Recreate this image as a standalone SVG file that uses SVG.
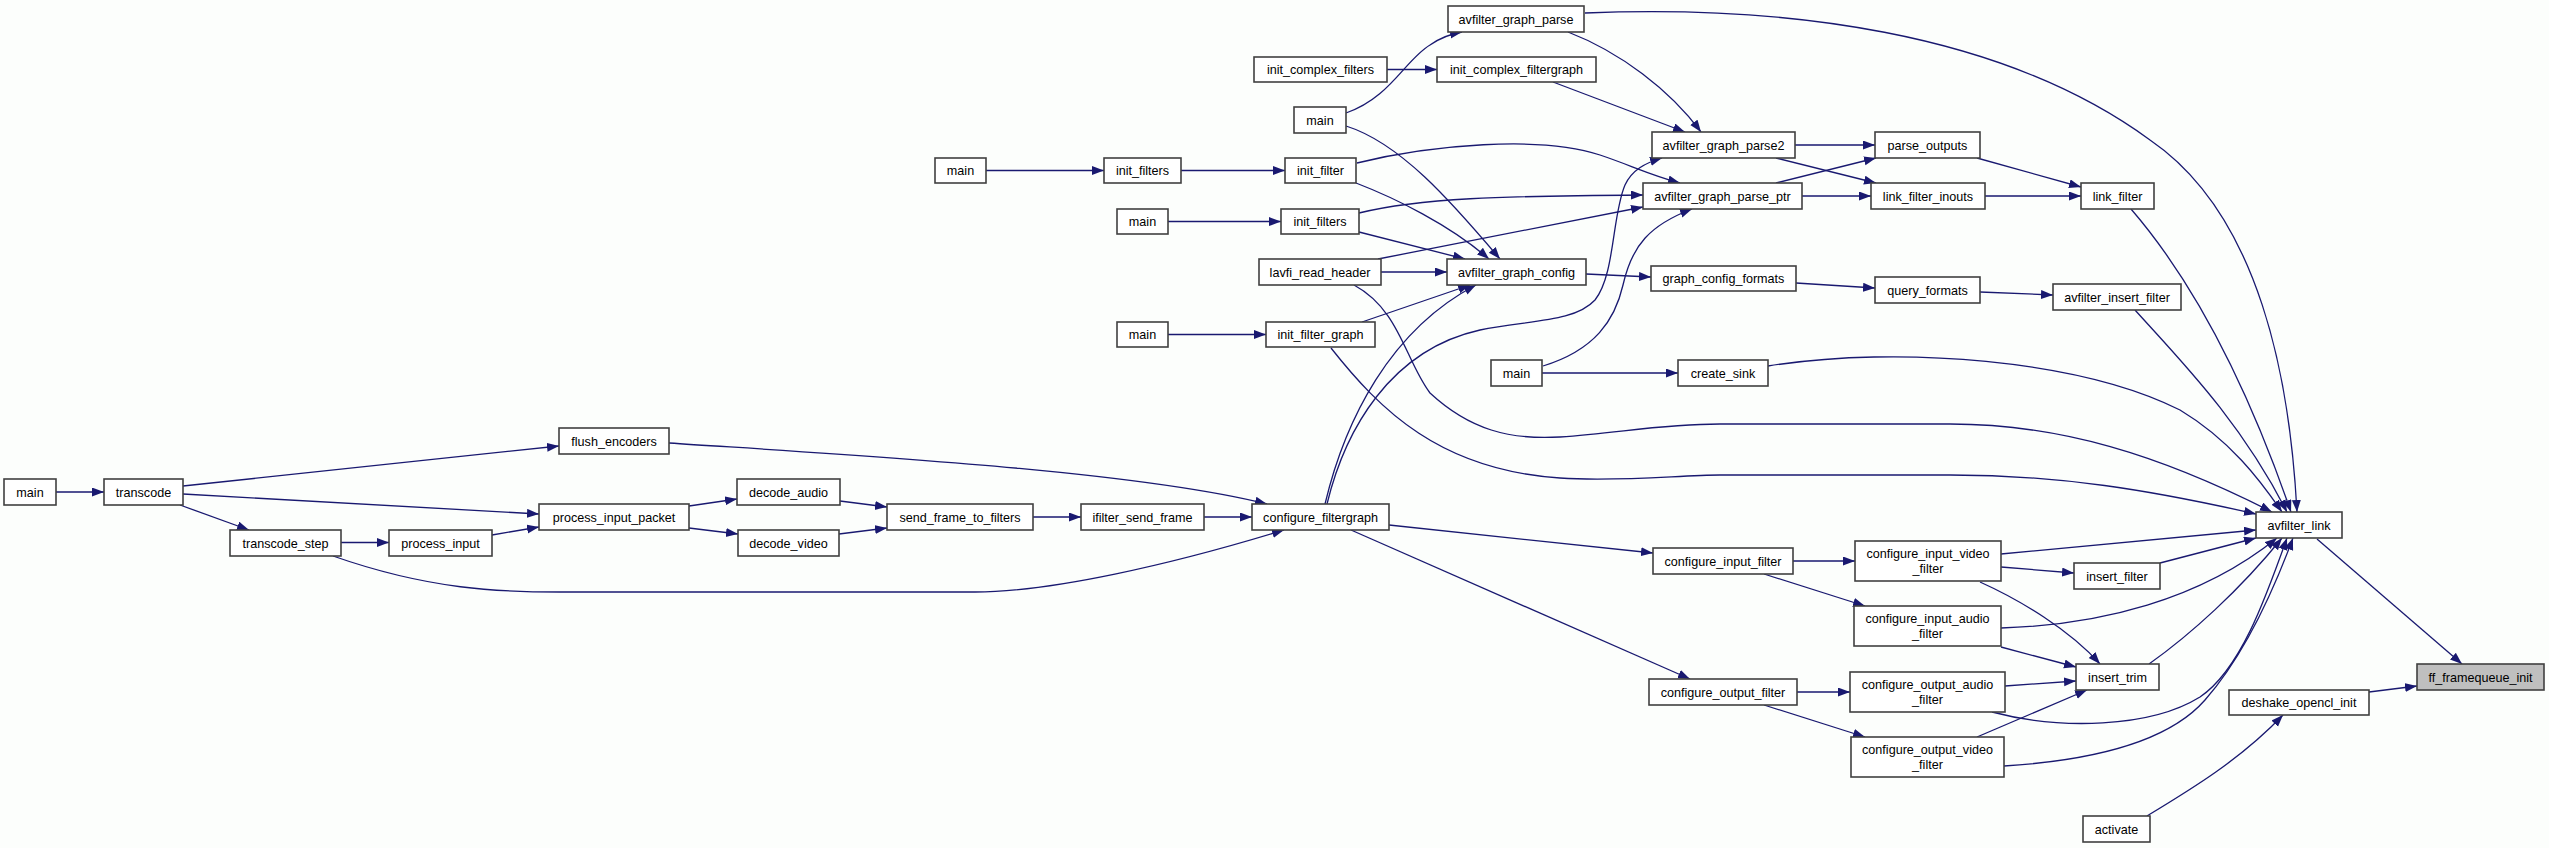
<svg xmlns="http://www.w3.org/2000/svg" width="2549" height="848" viewBox="0 0 2549 848">
<defs>
<style>
.n rect{fill:#ffffff;stroke:#404040;stroke-width:1.6}
.n text{font-family:"Liberation Sans",Arial,sans-serif;font-size:12.6px;fill:#000;text-anchor:middle}
.hl rect{fill:#bfbfbf}
.e path{fill:none;stroke:#191970;stroke-width:1.3;marker-end:url(#ah)}
</style>
<marker id="ah" markerWidth="13" markerHeight="10" refX="12" refY="4.5" orient="auto" markerUnits="userSpaceOnUse"><path d="M0,0 L12,4.5 L0,9 z" fill="#191970" stroke="none"/></marker>
</defs>
<rect x="0" y="0" width="2549" height="848" fill="#fcfefc"/>
<g id="edges" class="e">
<path d="M56,492 L104,492"/>
<path d="M183,486 L559,446"/>
<path d="M183,494 L539,514"/>
<path d="M180,505 L249,530"/>
<path d="M341,542.5 L389,542.5"/>
<path d="M333,556 C430,590 500,592 560,592 L975,592 C1050,592 1170,565 1284,530"/>
<path d="M492,535 L539,527"/>
<path d="M689,506 L737,499"/>
<path d="M689,528 L738,534"/>
<path d="M840,501 L887,507"/>
<path d="M839,534 L887,528"/>
<path d="M1033,517 L1081,517"/>
<path d="M1204,517 L1252,517"/>
<path d="M669,443 C850,455 1130,470 1267,504"/>
<path d="M1325,504 C1345,420 1390,330 1476,285"/>
<path d="M1327,504 C1345,430 1390,350 1480,330 C1530,320 1575,322 1595,300 C1615,275 1612,215 1625,185 C1632,170 1645,163 1662,158"/>
<path d="M1389,525 L1653,553"/>
<path d="M1351,530 L1690,679"/>
<path d="M1387,69.5 L1437,69.5"/>
<path d="M1553,82 L1685,132"/>
<path d="M1568,32 C1620,52 1670,90 1701,132"/>
<path d="M1585,13 C1780,5 2000,30 2150,140 C2260,215 2290,380 2297,512"/>
<path d="M1346,113 C1390,98 1405,60 1430,45 C1440,38 1450,34 1462,32"/>
<path d="M1346,126 C1400,143 1450,200 1500,259"/>
<path d="M986,170.5 L1104,170.5"/>
<path d="M1181,170.5 L1285,170.5"/>
<path d="M1357,163 C1430,145 1540,135 1600,155 C1630,165 1650,175 1680,183"/>
<path d="M1356,183 C1395,198 1450,225 1489,259"/>
<path d="M1168,221.5 L1281,221.5"/>
<path d="M1359,213 C1420,198 1500,196 1643,195"/>
<path d="M1359,232 L1465,259"/>
<path d="M1378,259 L1643,207"/>
<path d="M1381,272 L1447,272"/>
<path d="M1354,285 C1400,310 1405,360 1430,393 C1470,430 1510,440 1560,437 C1620,433 1660,424 1720,424 L1950,424 C2060,424 2160,455 2272,512"/>
<path d="M1168,334.5 L1266,334.5"/>
<path d="M1362,322 L1470,285"/>
<path d="M1331,348 C1380,410 1440,470 1560,478 C1620,482 1680,475 1720,475 L1950,475 C2060,475 2150,490 2256,514"/>
<path d="M1543,366 C1595,350 1615,320 1623,285 C1632,245 1650,225 1692,209"/>
<path d="M1542,373 L1678,373"/>
<path d="M1768,366 C1900,345 2080,360 2180,410 C2230,440 2260,480 2282,512"/>
<path d="M1586,274 L1651,277"/>
<path d="M1795,145 L1875,145"/>
<path d="M1776,158 L1876,183"/>
<path d="M1776,183 L1876,158"/>
<path d="M1802,196 L1871,196"/>
<path d="M1977,158 L2081,187"/>
<path d="M1985,196 L2081,196"/>
<path d="M2131,209 C2175,260 2235,350 2291,512"/>
<path d="M1796,283 L1875,288"/>
<path d="M1980,292 L2053,295"/>
<path d="M2135,310 C2180,360 2240,420 2287,512"/>
<path d="M1793,561 L1855,561"/>
<path d="M1764,574 L1865,606"/>
<path d="M2001,554 L2256,530"/>
<path d="M2001,567 L2074,573"/>
<path d="M1980,582 C2020,600 2070,630 2100,664"/>
<path d="M2160,563 L2256,538"/>
<path d="M2001,628 C2100,625 2200,600 2277,538"/>
<path d="M2001,647 L2076,667"/>
<path d="M2149,664 C2190,635 2240,590 2282,538"/>
<path d="M1797,692 L1850,692"/>
<path d="M1764,705 L1865,737"/>
<path d="M2005,686 L2076,681"/>
<path d="M1992,712 C2060,730 2150,728 2200,697 C2240,670 2265,600 2287,538"/>
<path d="M1977,737 L2087,690"/>
<path d="M2004,766 C2100,760 2170,740 2205,700 C2240,660 2270,600 2293,538"/>
<path d="M2317,539 L2462,664"/>
<path d="M2369,692 L2417,686"/>
<path d="M2147,816 C2190,790 2240,760 2283,715"/>
</g>
<g id="main_1" class="n"><rect x="4" y="479" width="52" height="26"/><text x="30" y="496.5">main</text></g>
<g id="transcode" class="n"><rect x="104" y="479" width="79" height="26"/><text x="143.5" y="496.5">transcode</text></g>
<g id="transcode_step" class="n"><rect x="230" y="530" width="111" height="26"/><text x="285.5" y="547.5">transcode_step</text></g>
<g id="process_input" class="n"><rect x="389" y="530" width="103" height="26"/><text x="440.5" y="547.5">process_input</text></g>
<g id="process_input_packet" class="n"><rect x="539" y="504" width="150" height="26"/><text x="614" y="521.5">process_input_packet</text></g>
<g id="flush_encoders" class="n"><rect x="559" y="428" width="110" height="26"/><text x="614" y="445.5">flush_encoders</text></g>
<g id="decode_audio" class="n"><rect x="737" y="479" width="103" height="26"/><text x="788.5" y="496.5">decode_audio</text></g>
<g id="decode_video" class="n"><rect x="738" y="530" width="101" height="26"/><text x="788.5" y="547.5">decode_video</text></g>
<g id="send_frame_to_filters" class="n"><rect x="887" y="504" width="146" height="26"/><text x="960" y="521.5">send_frame_to_filters</text></g>
<g id="ifilter_send_frame" class="n"><rect x="1081" y="504" width="123" height="26"/><text x="1142.5" y="521.5">ifilter_send_frame</text></g>
<g id="configure_filtergraph" class="n"><rect x="1252" y="504" width="137" height="26"/><text x="1320.5" y="521.5">configure_filtergraph</text></g>
<g id="avfilter_graph_parse" class="n"><rect x="1448" y="6" width="136" height="26"/><text x="1516" y="23.5">avfilter_graph_parse</text></g>
<g id="init_complex_filters" class="n"><rect x="1254" y="57" width="133" height="25"/><text x="1320.5" y="74">init_complex_filters</text></g>
<g id="init_complex_filtergraph" class="n"><rect x="1437" y="57" width="159" height="25"/><text x="1516.5" y="74">init_complex_filtergraph</text></g>
<g id="main_2" class="n"><rect x="1294" y="107" width="52" height="26"/><text x="1320" y="124.5">main</text></g>
<g id="avfilter_graph_parse2" class="n"><rect x="1652" y="132" width="143" height="26"/><text x="1723.5" y="149.5">avfilter_graph_parse2</text></g>
<g id="main_3" class="n"><rect x="935" y="158" width="51" height="25"/><text x="960.5" y="175">main</text></g>
<g id="init_filters_1" class="n"><rect x="1104" y="158" width="77" height="25"/><text x="1142.5" y="175">init_filters</text></g>
<g id="init_filter" class="n"><rect x="1285" y="158" width="71" height="25"/><text x="1320.5" y="175">init_filter</text></g>
<g id="avfilter_graph_parse_ptr" class="n"><rect x="1643" y="183" width="159" height="26"/><text x="1722.5" y="200.5">avfilter_graph_parse_ptr</text></g>
<g id="main_4" class="n"><rect x="1117" y="209" width="51" height="25"/><text x="1142.5" y="226">main</text></g>
<g id="init_filters_2" class="n"><rect x="1281" y="209" width="78" height="25"/><text x="1320" y="226">init_filters</text></g>
<g id="lavfi_read_header" class="n"><rect x="1259" y="259" width="122" height="26"/><text x="1320" y="276.5">lavfi_read_header</text></g>
<g id="avfilter_graph_config" class="n"><rect x="1447" y="259" width="139" height="26"/><text x="1516.5" y="276.5">avfilter_graph_config</text></g>
<g id="graph_config_formats" class="n"><rect x="1651" y="266" width="145" height="25"/><text x="1723.5" y="283">graph_config_formats</text></g>
<g id="main_5" class="n"><rect x="1117" y="322" width="51" height="25"/><text x="1142.5" y="339">main</text></g>
<g id="init_filter_graph" class="n"><rect x="1266" y="322" width="109" height="25"/><text x="1320.5" y="339">init_filter_graph</text></g>
<g id="main_6" class="n"><rect x="1491" y="360" width="51" height="26"/><text x="1516.5" y="377.5">main</text></g>
<g id="create_sink" class="n"><rect x="1678" y="360" width="90" height="26"/><text x="1723" y="377.5">create_sink</text></g>
<g id="parse_outputs" class="n"><rect x="1875" y="132" width="105" height="26"/><text x="1927.5" y="149.5">parse_outputs</text></g>
<g id="link_filter_inouts" class="n"><rect x="1871" y="183" width="114" height="26"/><text x="1928" y="200.5">link_filter_inouts</text></g>
<g id="link_filter" class="n"><rect x="2081" y="183" width="73" height="26"/><text x="2117.5" y="200.5">link_filter</text></g>
<g id="query_formats" class="n"><rect x="1875" y="277" width="105" height="26"/><text x="1927.5" y="294.5">query_formats</text></g>
<g id="avfilter_insert_filter" class="n"><rect x="2053" y="284" width="128" height="26"/><text x="2117" y="301.5">avfilter_insert_filter</text></g>
<g id="configure_input_filter" class="n"><rect x="1653" y="548" width="140" height="26"/><text x="1723" y="565.5">configure_input_filter</text></g>
<g id="configure_input_video_filter" class="n"><rect x="1855" y="541" width="146" height="40"/><text x="1928" y="557.5">configure_input_video</text><text x="1928" y="572.5">_filter</text></g>
<g id="insert_filter" class="n"><rect x="2074" y="563" width="86" height="26"/><text x="2117" y="580.5">insert_filter</text></g>
<g id="configure_input_audio_filter" class="n"><rect x="1854" y="606" width="147" height="40"/><text x="1927.5" y="622.5">configure_input_audio</text><text x="1927.5" y="637.5">_filter</text></g>
<g id="insert_trim" class="n"><rect x="2076" y="664" width="83" height="26"/><text x="2117.5" y="681.5">insert_trim</text></g>
<g id="configure_output_filter" class="n"><rect x="1649" y="679" width="148" height="26"/><text x="1723" y="696.5">configure_output_filter</text></g>
<g id="configure_output_audio_filter" class="n"><rect x="1850" y="672" width="155" height="40"/><text x="1927.5" y="688.5">configure_output_audio</text><text x="1927.5" y="703.5">_filter</text></g>
<g id="configure_output_video_filter" class="n"><rect x="1851" y="737" width="153" height="40"/><text x="1927.5" y="753.5">configure_output_video</text><text x="1927.5" y="768.5">_filter</text></g>
<g id="avfilter_link" class="n"><rect x="2256" y="512" width="86" height="26"/><text x="2299" y="529.5">avfilter_link</text></g>
<g id="ff_framequeue_init" class="n hl"><rect x="2417" y="664" width="127" height="26"/><text x="2480.5" y="681.5">ff_framequeue_init</text></g>
<g id="deshake_opencl_init" class="n"><rect x="2229" y="690" width="140" height="25"/><text x="2299" y="707">deshake_opencl_init</text></g>
<g id="activate" class="n"><rect x="2083" y="816" width="67" height="26"/><text x="2116.5" y="833.5">activate</text></g>
</svg>
